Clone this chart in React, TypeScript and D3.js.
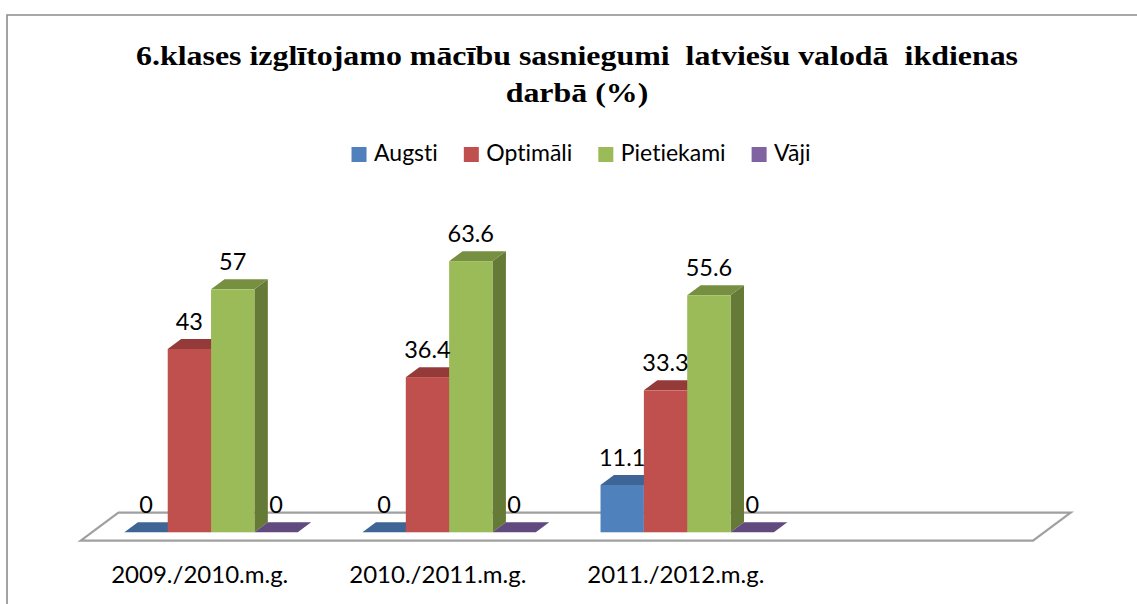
import React, { useEffect, useRef } from "react";
import * as d3 from "d3";

const titleLines = [
  "6.klases izglītojamo mācību sasniegumi  latviešu valodā  ikdienas",
  "darbā (%)",
];
const categories = ["2009./2010.m.g.", "2010./2011.m.g.", "2011./2012.m.g.", ""];
const seriesNames = ["Augsti", "Optimāli", "Pietiekami", "Vāji"];
const augsti = [0, 0, 11.1];
const optimali = [43, 36.4, 33.3];
const pietiekami = [57, 63.6, 55.6];
const vaji = [0, 0, 0];

const seriesValues = [augsti, optimali, pietiekami, vaji];
const frontColors = ["#4F81BD", "#C0504D", "#9BBB59", "#8064A2"];
const topColors = ["#3E6596", "#943B39", "#778F40", "#614A7D"];
const sideColors = ["#375A86", "#7F3230", "#667A37", "#54406C"];

const W = 1137;
const H = 604;
const LABEL_FONT = "Lato, 'Noto Sans', sans-serif";

export default function App() {
  const ref = useRef<SVGSVGElement | null>(null);

  useEffect(() => {
    const svg = d3.select(ref.current);
    svg.selectAll("*").remove();

    // outer border (top + left)
    svg.append("path")
      .attr("d", `M7,${H} L7,15 L${W},15`)
      .attr("fill", "none")
      .attr("stroke", "#8c8c8c")
      .attr("stroke-width", 1.6);

    // title
    const title = svg.append("text")
      .attr("text-anchor", "middle")
      .attr("transform", "translate(577,0) scale(1.14,1)")
      .attr("font-family", "'Liberation Serif', 'Times New Roman', serif")
      .attr("font-weight", "bold")
      .attr("font-size", 28)
      .style("white-space", "pre")
      .attr("fill", "#000");
    titleLines.forEach((t, i) => {
      title.append("tspan").attr("x", 0).attr("y", 65.5 + i * 36.3).text(t);
    });

    // geometry
    const floorL = 80.7, floorR = 1033, floorY = 540.7;
    const depthDx = 37.7, depthDy = 28;
    const frontFrac = 0.3, barDepthFrac = 0.357;
    const offX = depthDx * frontFrac, offY = depthDy * frontFrac;
    const bdx = depthDx * barDepthFrac, bdy = depthDy * barDepthFrac;

    const x = d3.scaleBand<string>().domain(categories).range([floorL, floorR]).padding(0);
    const xs = d3.scaleBand<string>().domain(seriesNames).range([0, x.bandwidth()])
      .paddingInner(0).paddingOuter(0.747);
    const base = floorY - offY;
    const y = d3.scaleLinear().domain([0, 70]).range([base, base - 70 * 4.263]);

    // floor
    svg.append("path")
      .attr("d", `M${floorL},${floorY} L${floorR},${floorY} L${floorR + depthDx},${floorY - depthDy} L${floorL + depthDx},${floorY - depthDy} Z`)
      .attr("fill", "#fff")
      .attr("stroke", "#a0a0a0")
      .attr("stroke-width", 2.2)
      .attr("stroke-linejoin", "miter");

    // bars
    const bars = svg.append("g");
    const labels: { x: number; y: number; t: string }[] = [];
    categories.forEach((cat, ci) => {
      seriesNames.forEach((s, si) => {
        const v = seriesValues[si][ci];
        if (v === undefined) return;
        const x0 = (x(cat) as number) + (xs(s) as number) + offX;
        const w = xs.bandwidth();
        const yTop = y(v);
        const yB = y(0);
        if (v > 0) {
          bars.append("path")
            .attr("d", `M${x0 + w},${yTop} L${x0 + w + bdx},${yTop - bdy} L${x0 + w + bdx},${yB - bdy} L${x0 + w},${yB} Z`)
            .attr("fill", sideColors[si]);
        }
        bars.append("path")
          .attr("d", `M${x0},${yTop} L${x0 + w},${yTop} L${x0 + w + bdx},${yTop - bdy} L${x0 + bdx},${yTop - bdy} Z`)
          .attr("fill", topColors[si]);
        if (v > 0) {
          bars.append("rect")
            .attr("x", x0).attr("y", yTop)
            .attr("width", w).attr("height", yB - yTop)
            .attr("fill", frontColors[si]);
        }
        labels.push({ x: x0 + w / 2, y: yTop - 19, t: String(v) });
      });
    });

    // data labels
    svg.append("g").selectAll("text").data(labels).join("text")
      .attr("x", (d) => d.x)
      .attr("y", (d) => d.y)
      .attr("text-anchor", "middle")
      .attr("font-family", LABEL_FONT)
      .attr("font-size", 23.5)
      .attr("fill", "#000")
      .text((d) => d.t);

    // category labels
    svg.append("g").selectAll("text").data(categories.filter((c) => c !== "")).join("text")
      .attr("x", (d) => (x(d) as number) + x.bandwidth() / 2)
      .attr("y", 583.3)
      .attr("text-anchor", "middle")
      .attr("font-family", LABEL_FONT)
      .attr("font-size", 24)
      .attr("fill", "#000")
      .text((d) => d);

    // legend
    const lg = svg.append("g");
    const items = seriesNames.map((s, i) => {
      const g = lg.append("g");
      g.append("rect").attr("x", 0).attr("y", 147).attr("width", 15).attr("height", 15)
        .attr("fill", frontColors[i]);
      const t = g.append("text").attr("x", 22.5).attr("y", 161)
        .attr("font-family", LABEL_FONT).attr("font-size", 23)
        .style("font-variant-ligatures", "none")
        .attr("fill", "#000").text(s);
      const tw = (t.node() as SVGTextElement).getComputedTextLength();
      return { g, width: 22.5 + tw };
    });
    const gap = 26;
    const total = items.reduce((a, b) => a + b.width, 0) + gap * (items.length - 1);
    let cx = 581 - total / 2;
    items.forEach((it) => {
      it.g.attr("transform", `translate(${cx},0)`);
      cx += it.width + gap;
    });
  }, []);

  return (
    <svg
      ref={ref}
      width={W}
      height={H}
      style={{ position: "absolute", left: 0, top: 0, background: "#fff" }}
    />
  );
}
